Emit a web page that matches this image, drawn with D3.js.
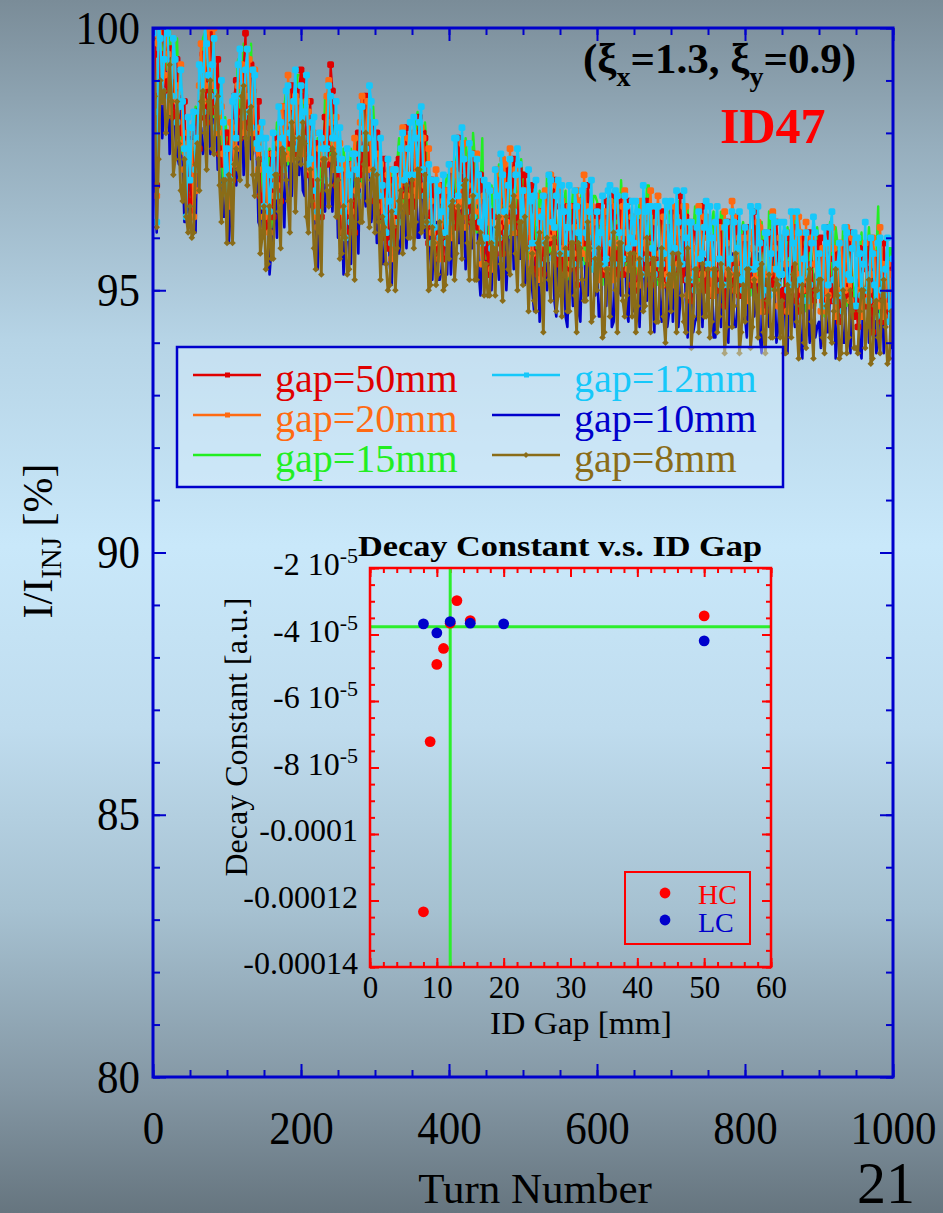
<!DOCTYPE html>
<html>
<head>
<meta charset="utf-8">
<script src="https://cdn.jsdelivr.net/npm/d3@7"></script>
<style>
  body { margin: 0; }
  svg { display: block; }
  text { font-family: "Liberation Serif", "Times New Roman", serif; }
</style>
</head>
<body>
<svg id="chart" width="943" height="1213"></svg>
<script>
// ---- beam current I/I_INJ [%], one sample every 2.5 turns (0..1000) ----
const turns = d3.range(0, 1000.1, 2.5);

const gap50 = [
99.6,99.5,97.0,98.7,99.5,99.9,99.8,98.8,99.0,99.6,99.6,98.3,98.4,99.4,98.2,98.0,98.1,98.6,96.8,96.7,
97.9,96.4,97.3,98.0,98.4,97.7,98.3,99.5,99.2,98.2,99.8,99.9,98.4,98.7,98.9,99.4,97.6,97.4,97.7,98.0,
96.9,98.0,97.8,97.1,98.7,99.0,98.4,97.9,98.1,99.2,99.9,98.1,98.4,99.3,98.8,97.9,97.9,98.6,96.8,96.6,
97.5,96.2,96.4,97.2,97.6,96.4,97.0,97.9,97.9,96.7,97.3,98.5,98.5,97.8,98.0,98.9,98.8,97.6,97.8,98.8,
99.2,99.0,98.7,97.6,97.2,98.6,97.4,96.6,97.8,97.4,96.8,96.4,97.8,98.3,97.4,97.7,99.3,98.8,98.2,97.0,
97.4,96.4,96.1,97.2,97.0,96.1,97.3,97.4,96.7,96.1,97.5,98.0,97.2,97.4,98.6,98.7,97.7,97.3,98.1,98.2,
96.7,98.0,97.2,96.4,96.7,97.5,96.0,95.8,97.1,96.8,96.4,95.8,97.4,97.5,96.9,96.8,97.5,98.1,96.5,96.6,
97.8,96.6,97.6,97.9,98.3,96.9,98.0,97.9,96.5,95.9,97.1,97.1,96.1,96.0,95.6,97.0,96.7,95.6,96.4,96.9,
96.6,97.4,97.4,96.4,96.2,97.9,97.3,96.4,97.4,97.4,96.8,96.3,97.6,97.6,96.3,96.3,96.2,97.2,96.9,95.5,
96.8,95.3,95.8,96.5,96.4,95.7,95.9,97.1,96.7,95.7,97.2,97.3,96.1,96.4,97.0,97.5,96.3,96.1,97.3,97.2,
96.1,97.2,96.5,95.8,96.7,97.0,95.9,95.4,95.3,96.4,96.5,95.3,95.9,96.8,96.8,95.9,96.4,97.1,95.7,95.5,
96.6,95.3,95.6,96.4,96.6,95.4,95.7,96.6,96.3,95.1,95.5,96.7,96.6,95.9,96.1,97.0,96.7,95.5,95.5,96.5,
95.6,96.6,96.4,95.3,95.3,96.7,96.1,95.3,96.8,96.4,95.7,95.3,96.2,96.7,95.3,95.6,96.2,96.7,96.3,95.1,
96.0,95.0,95.1,96.2,96.3,95.4,96.6,96.7,95.7,95.1,96.0,96.5,95.3,95.5,96.4,96.5,95.5,95.1,96.1,96.2,
95.2,96.5,96.2,95.4,96.0,96.8,95.4,95.2,96.4,96.1,95.4,94.8,96.1,96.2,95.4,95.3,96.0,96.6,95.0,95.1,
96.1,94.9,95.7,96.0,95.0,95.0,96.3,96.2,95.3,94.7,96.3,96.3,95.5,95.4,95.0,96.4,96.0,94.9,95.5,96.0,
96.2,96.2,95.3,95.1,95.8,96.5,95.0,94.9,95.5,95.8,95.9,94.6,94.9,96.1,95.9,95.2,95.1,96.3,95.6,94.7,
95.0,94.6,95.5,95.7,96.0,94.9,95.4,96.2,94.8,94.6,95.8,96.0,95.0,95.0,95.8,96.1,95.5,94.8,94.9,95.9,
95.8,96.0,94.8,94.7,96.0,96.2,95.2,94.8,95.6,95.7,94.6,94.4,95.6,95.8,95.2,94.9,95.9,96.1,94.7,94.5,
94.8,94.3,95.8,95.6,94.7,94.7,95.4,95.9,95.9,94.2,94.7,95.7,95.3,94.9,94.4,95.9,95.3,94.4,95.5,95.5,
94.8];

const gap20 = [
99.8,98.1,96.8,99.7,100.2,98.6,99.1,100.2,99.5,98.4,99.2,99.8,98.7,98.6,98.9,99.3,97.8,97.3,97.6,98.0,
97.7,97.8,96.4,96.9,97.8,98.9,99.7,98.6,98.9,100.0,100.0,98.9,98.9,100.0,98.1,98.0,98.6,98.5,97.6,97.0,
97.3,96.6,98.2,98.1,97.4,97.7,98.9,99.3,99.3,98.0,98.7,99.6,99.4,98.5,98.0,99.2,97.7,97.3,98.1,97.9,
96.4,97.6,96.6,96.1,97.2,97.6,96.8,97.0,97.8,98.5,98.5,97.5,97.6,99.1,98.5,97.5,97.9,98.7,98.6,97.8,
98.0,97.6,98.4,98.6,98.4,97.3,97.2,98.0,96.4,96.2,97.7,97.9,97.5,97.5,98.7,99.0,98.2,97.5,97.3,98.3,
97.8,97.8,96.5,96.1,97.4,97.3,96.6,96.5,97.4,97.9,96.9,97.0,98.2,98.7,97.9,97.3,98.6,98.4,97.3,97.2,
97.1,96.6,97.6,97.4,96.2,96.2,96.7,97.2,97.3,95.6,96.3,97.3,97.1,96.7,96.6,98.1,97.7,96.8,97.9,97.9,
97.7,98.0,96.9,96.8,97.9,98.1,97.9,97.0,96.6,97.7,96.7,96.1,95.9,97.3,97.0,95.6,96.1,96.7,96.9,95.9,
96.2,96.0,97.3,97.4,97.2,96.6,96.7,97.8,97.8,96.2,97.0,97.8,97.6,96.8,96.5,97.6,96.7,95.9,95.5,96.8,
96.6,96.7,96.3,95.4,95.8,96.9,97.3,96.2,96.4,97.5,97.4,96.3,96.6,97.7,96.2,96.1,97.3,97.2,96.8,96.2,
96.5,95.8,96.9,96.8,95.4,95.7,96.4,96.8,96.5,95.2,95.9,96.8,96.9,96.0,96.0,97.2,96.2,95.8,97.0,96.8,
96.9,96.7,95.8,95.3,96.2,96.6,95.5,95.7,96.2,96.9,96.7,95.7,95.7,97.2,96.6,95.6,95.8,96.6,96.3,95.5,
95.6,95.2,96.1,96.3,96.5,95.4,95.9,96.7,95.4,95.2,96.6,96.8,95.9,95.9,96.6,96.9,96.1,95.4,95.4,96.4,
96.4,96.4,95.5,95.1,96.7,96.6,95.9,95.8,96.4,96.9,95.4,95.5,96.3,96.8,95.7,95.1,96.4,96.2,95.3,95.2,
95.6,95.1,96.6,96.4,95.5,95.5,96.1,96.6,96.6,94.9,95.3,96.3,95.8,95.4,95.1,96.6,96.2,95.3,96.4,96.4,
96.0,96.3,95.0,94.9,96.0,96.2,96.2,95.3,95.4,96.5,95.9,95.3,95.3,96.7,96.4,95.0,95.4,96.0,96.0,95.0,
95.0,94.8,96.0,96.1,95.8,95.2,95.2,96.3,96.2,94.6,95.3,96.1,96.1,95.3,95.4,96.5,95.8,95.0,94.7,96.0,
95.9,96.0,95.5,94.6,95.0,96.1,96.4,95.3,95.3,96.4,96.1,95.0,95.2,96.3,94.8,94.7,96.0,95.9,95.5,94.9,
95.3,94.6,95.8,95.7,94.6,94.9,95.8,96.2,95.8,94.5,95.0,95.9,95.9,95.0,95.0,96.2,95.2,94.8,96.0,95.8,
95.9,95.7,95.0,94.5,95.5,95.9,94.8,95.0,95.3,96.0,95.7,94.7,94.7,96.2,95.5,94.5,94.7,95.5,95.3,94.5,
95.0];

const gap15 = [
99.7,99.4,96.5,98.5,99.6,99.7,99.3,99.2,100.1,100.1,98.9,98.7,99.1,99.8,98.3,97.8,97.6,98.3,97.4,96.9,
96.7,96.7,98.0,98.5,98.4,97.9,98.5,99.8,99.9,98.5,99.2,99.9,99.6,98.3,98.4,99.3,98.3,97.8,96.8,98.3,
97.8,97.9,97.8,96.9,97.7,98.8,99.4,98.3,98.6,99.7,99.6,98.5,98.6,99.7,97.8,97.7,98.4,98.3,97.4,96.8,
97.0,96.5,97.4,97.7,96.2,96.6,97.6,98.2,98.1,97.0,97.7,98.5,98.8,97.4,97.8,98.8,98.1,98.0,99.1,99.1,
99.1,98.9,97.9,97.4,98.0,98.4,96.8,97.0,97.2,97.9,97.8,96.8,97.2,98.7,98.5,97.5,97.7,98.5,98.0,97.2,
96.9,96.7,97.1,97.7,97.3,96.3,96.7,97.7,96.4,96.4,97.9,98.0,97.5,97.0,98.5,98.6,98.1,97.7,97.3,98.5,
97.9,97.9,96.6,96.2,97.4,97.3,96.3,96.2,96.8,97.3,96.1,96.2,97.4,97.9,97.2,96.6,98.0,97.8,96.9,96.8,
97.2,96.9,98.2,98.4,97.0,97.1,97.5,98.2,97.7,96.2,96.2,97.1,96.5,95.6,95.6,96.9,96.6,96.0,97.0,97.2,
97.0,97.3,96.3,96.2,97.5,97.7,97.7,96.8,96.8,97.9,97.3,96.7,96.6,98.0,97.5,96.1,96.3,96.9,97.9,95.7,
95.6,95.6,96.5,97.0,96.4,95.9,96.1,97.4,97.4,96.0,96.6,97.3,97.3,96.0,96.5,97.4,97.0,96.5,96.0,97.5,
97.0,97.1,96.5,95.6,95.7,96.8,96.9,95.8,95.8,96.9,96.8,95.7,96.1,97.2,95.8,95.7,96.9,96.8,96.3,95.7,
96.1,95.6,96.6,96.9,95.2,95.6,96.3,96.9,96.5,95.4,95.9,96.7,96.9,95.5,95.9,96.9,96.0,95.9,96.8,96.8,
96.7,96.5,95.6,95.1,96.1,96.5,95.5,95.7,96.2,96.9,96.7,95.7,95.6,97.1,96.4,95.4,95.6,96.4,96.1,95.3,
95.5,95.3,96.1,96.7,96.6,95.6,96.0,97.0,97.0,95.4,96.4,96.5,95.6,95.1,96.3,96.4,95.9,95.5,95.3,96.5,
96.4,96.4,95.6,95.2,96.7,96.6,95.7,95.6,96.1,96.6,95.1,95.2,96.1,96.6,95.7,95.1,96.5,96.3,95.4,95.3,
95.5,95.2,96.3,96.5,95.1,95.2,95.8,96.5,96.5,95.0,95.4,96.3,95.9,95.0,95.0,96.3,95.9,95.3,96.1,96.3,
95.8,96.1,95.0,94.9,96.1,96.3,96.2,95.3,95.2,96.3,95.6,95.0,95.1,96.5,96.4,95.0,95.4,96.0,95.9,94.9,
94.9,94.9,95.7,96.2,95.6,95.1,95.2,96.5,96.3,94.9,95.3,96.0,95.9,94.6,95.1,96.0,95.7,95.2,94.7,96.2,
95.8,95.9,95.4,94.5,94.9,96.0,96.3,95.2,95.1,96.2,95.9,94.8,95.1,96.2,94.8,94.7,95.9,95.8,95.3,94.7,
95.1,94.6,95.8,96.1,94.5,94.9,95.6,96.2,95.6,94.5,94.9,95.7,96.6,94.5,94.8,95.8,94.9,94.8,95.8,95.8,
95.3];

const gap12 = [
99.9,98.4,96.3,100.2,99.8,98.8,99.4,100.5,99.9,98.7,98.7,99.8,99.4,98.2,98.5,99.2,98.6,97.7,96.4,98.3,
97.1,98.1,98.4,97.3,97.9,99.3,99.2,98.4,100.1,99.7,99.1,98.7,99.3,99.8,98.1,98.4,98.5,99.0,98.2,97.0,
97.7,96.9,97.1,98.6,98.7,97.9,99.3,99.6,98.7,98.3,99.2,99.6,98.4,98.1,99.2,99.1,97.8,97.7,97.9,98.2,
96.6,97.9,97.3,96.5,97.2,98.0,97.0,96.8,98.5,98.2,97.9,97.3,98.8,98.9,98.0,97.9,98.6,99.2,97.7,97.8,
98.9,97.9,98.4,99.1,97.4,97.5,98.2,98.3,96.9,96.5,98.0,97.9,97.7,97.1,97.7,98.9,98.7,97.9,97.9,98.6,
97.3,98.1,97.5,96.5,96.0,97.7,97.2,96.3,97.6,97.6,97.3,96.8,98.5,98.5,97.7,97.7,97.9,98.9,98.6,97.2,
98.2,96.9,96.8,97.9,97.0,96.4,96.1,97.5,96.7,95.9,97.3,97.3,96.5,96.3,97.7,98.0,97.1,97.2,97.7,98.2,
97.2,98.3,97.9,97.2,98.2,98.5,97.3,96.8,96.3,97.4,97.1,95.9,96.2,97.1,96.9,96.0,96.5,97.2,96.1,95.9,
97.4,96.3,96.7,97.9,97.9,96.8,97.0,98.1,97.5,96.5,96.7,97.8,97.6,96.4,96.8,97.5,97.2,96.3,95.9,97.1,
96.0,97.0,96.9,95.8,95.9,97.3,96.8,96.0,97.6,97.2,96.5,96.1,97.0,97.5,96.2,96.5,97.2,97.7,97.4,96.2,
96.9,96.1,95.8,97.3,96.7,95.9,96.8,97.1,95.9,95.5,96.4,96.8,95.9,95.6,97.2,97.1,96.3,96.2,96.8,97.1,
95.7,97.0,96.5,95.7,96.2,97.0,95.7,95.5,96.9,96.6,96.1,95.5,96.9,97.0,96.1,96.0,96.5,97.1,95.4,95.5,
96.5,95.5,96.1,96.8,95.5,95.6,96.9,97.0,95.9,95.5,96.9,96.8,96.1,95.5,95.6,96.8,96.6,95.8,96.0,96.7,
95.9,96.7,96.5,95.5,95.3,97.0,96.5,95.6,96.6,96.6,95.8,95.3,96.6,96.6,95.5,95.5,95.7,96.7,96.6,95.2,
96.7,95.4,95.8,96.9,96.3,95.7,95.5,96.9,96.0,95.2,96.3,96.3,95.2,95.0,96.2,96.5,95.6,95.7,96.2,96.7,
95.5,96.6,96.0,95.3,96.3,96.6,95.6,95.1,95.1,96.2,96.3,95.1,95.6,96.5,96.3,95.4,95.8,96.5,95.2,95.0,
96.2,95.1,95.4,96.6,96.5,95.4,95.5,96.6,95.9,94.9,95.0,96.1,96.1,94.9,95.7,96.4,96.3,95.4,95.1,96.3,
95.3,96.3,96.1,95.0,95.1,96.5,95.9,95.1,96.5,96.1,95.2,94.8,95.6,96.1,94.8,95.1,95.9,96.4,96.1,94.9,
95.7,94.9,94.7,96.2,95.9,95.1,96.2,96.5,95.2,94.8,95.5,95.9,94.9,94.6,96.2,96.1,95.3,95.2,95.8,96.1,
94.7,96.0,95.7,94.9,95.5,96.3,95.0,94.8,96.0,95.7,95.1,94.5,95.9,96.0,95.0,94.9,95.4,96.0,94.4,94.5,
95.6];

const gap10 = [
99.4,97.4,96.1,99.2,99.2,97.9,98.5,99.6,99.3,97.6,98.2,99.0,98.0,97.6,97.4,98.7,97.5,96.3,96.3,97.2,
96.2,97.3,97.2,96.1,98.2,98.0,98.1,97.6,97.8,99.4,99.1,97.6,98.1,99.0,98.5,97.3,97.5,97.9,96.4,96.4,
97.2,95.9,96.6,97.6,98.2,97.0,97.7,98.7,98.5,97.2,97.7,98.8,98.5,97.5,97.6,98.6,97.8,96.3,96.2,97.1,
96.1,97.1,96.8,95.3,95.8,96.7,96.8,96.0,97.8,97.9,96.9,96.2,97.6,98.1,96.8,96.8,97.9,98.1,98.2,97.2,
97.9,96.9,96.8,98.1,97.5,96.6,97.2,97.4,96.1,95.4,96.7,97.1,96.6,96.5,98.2,98.4,97.2,96.5,97.5,97.5,
96.0,97.3,96.5,95.3,96.1,96.4,95.7,95.5,97.1,97.3,96.6,95.7,97.6,97.7,97.0,96.6,97.5,97.8,96.3,96.6,
97.1,95.9,96.4,96.9,95.5,95.5,96.6,96.6,95.5,95.1,96.6,96.5,96.1,95.7,96.0,97.5,97.2,95.8,96.7,97.1,
96.7,97.5,97.4,96.0,96.0,97.2,96.9,96.0,96.6,97.1,95.6,95.2,96.3,96.3,95.2,95.2,95.4,96.1,96.5,95.3,
96.8,95.3,96.0,96.9,96.6,95.9,95.9,97.2,96.5,95.4,97.0,97.0,95.8,95.8,96.4,97.0,95.4,94.9,95.8,96.0,
95.1,96.2,95.7,95.0,96.2,96.0,95.7,95.2,95.3,96.9,96.5,95.0,95.8,96.7,96.6,95.4,96.2,96.6,95.6,95.6,
96.4,95.1,95.3,96.3,96.2,95.0,94.6,96.2,95.7,94.4,94.9,96.0,96.0,95.0,95.6,96.6,96.3,94.8,94.5,96.0,
95.2,96.2,96.0,94.5,94.3,95.7,95.5,94.7,96.2,96.3,94.6,94.4,95.7,96.2,94.9,94.9,95.8,96.0,95.9,94.9,
95.5,94.5,94.5,95.8,95.6,94.7,95.9,96.1,94.3,94.4,95.6,96.0,95.0,94.9,96.1,96.3,94.6,94.4,95.6,95.6,
94.6,95.9,95.5,94.3,95.4,95.7,95.0,94.8,96.1,96.3,95.1,94.2,95.7,95.8,94.8,94.4,95.3,95.6,94.3,94.6,
95.6,94.4,95.4,95.9,94.3,94.8,96.0,96.0,94.8,94.1,95.6,95.5,94.2,94.4,94.5,96.0,95.7,94.3,95.2,95.6,
95.0,95.8,95.5,94.1,94.1,95.3,95.2,94.3,95.4,95.9,94.8,94.0,95.7,95.7,94.3,94.3,94.7,95.4,95.6,94.4,
94.5,94.1,95.2,95.6,95.6,94.5,94.8,95.7,94.1,93.8,95.2,95.3,94.6,94.3,95.5,95.9,95.0,94.0,94.3,95.2,
95.3,95.5,94.3,93.8,95.5,95.2,94.7,94.3,95.2,95.8,94.0,93.7,95.1,95.3,94.6,94.0,95.4,95.3,94.1,94.3,
94.4,93.9,95.2,95.2,94.2,94.2,95.0,95.6,95.5,93.7,94.2,95.1,94.7,94.0,94.0,95.6,95.0,93.8,95.1,95.0,
94.7,95.2,93.9,93.7,95.0,95.0,95.2,94.0,94.2,95.4,94.6,93.8,94.1,95.2,95.2,93.8,94.2,94.9,94.8,93.9,
94.1];

const gap8 = [
99.8,98.7,96.2,97.5,99.0,98.6,98.8,98.0,98.3,99.3,98.6,97.2,97.5,98.6,97.8,96.9,96.7,97.5,96.4,96.1,
96.6,96.0,96.1,97.4,97.8,96.9,98.6,98.8,98.0,97.3,98.6,99.0,97.7,97.6,98.5,98.7,97.0,96.3,97.1,97.1,
95.9,97.2,97.1,95.9,97.4,97.7,97.3,97.1,98.7,98.9,97.9,97.0,98.4,98.5,97.2,96.8,97.2,97.5,95.7,96.0,
96.6,95.4,95.5,96.6,95.6,95.6,97.2,97.2,96.5,95.8,97.7,97.6,97.1,96.7,96.1,98.2,97.9,96.5,97.5,97.9,
97.4,98.2,97.8,96.4,96.1,97.3,96.7,95.8,95.4,97.1,96.1,95.3,97.5,97.5,96.9,96.6,97.0,97.7,97.6,96.4,
97.1,95.6,95.7,96.6,96.0,95.3,95.4,96.7,96.3,95.2,97.1,97.1,96.3,96.3,97.4,98.0,96.7,96.2,97.1,97.3,
96.1,97.2,96.3,95.2,96.4,96.2,95.5,95.0,95.1,96.5,96.2,95.0,95.8,96.7,96.9,95.7,96.6,97.0,96.0,96.0,
97.1,95.8,96.3,97.3,97.3,96.1,96.2,97.2,96.3,95.0,95.1,96.2,95.9,95.1,95.3,96.3,96.0,95.0,95.1,96.0,
95.6,96.6,96.7,95.2,95.7,96.6,96.4,95.6,97.0,97.1,95.9,95.2,96.3,96.8,95.2,95.2,95.9,96.1,95.9,94.9,
95.5,94.9,94.9,95.9,95.8,94.9,96.2,96.4,95.5,94.8,96.0,96.4,95.4,95.3,96.6,96.8,95.7,95.0,96.3,96.3,
95.1,96.4,95.8,94.6,95.4,95.7,94.8,94.6,95.9,96.1,95.1,94.2,95.9,96.0,95.2,94.8,95.7,96.0,94.6,94.9,
95.7,94.5,95.3,95.8,94.6,94.6,95.9,95.9,94.9,94.2,95.9,95.8,95.2,94.8,94.8,96.3,95.8,94.4,94.5,95.6,
95.0,95.8,95.5,94.1,94.2,95.4,95.4,94.5,95.6,96.1,95.0,94.2,95.9,95.9,94.8,94.5,94.9,95.6,95.7,94.5,
95.7,94.2,94.7,95.6,95.3,94.6,94.7,96.0,95.3,94.2,95.6,95.6,94.4,94.4,95.2,95.8,94.5,94.0,95.1,95.3,
94.6,95.7,95.3,94.2,95.7,95.5,94.9,94.4,94.2,95.8,95.2,93.9,94.5,95.4,95.4,94.2,95.1,95.5,94.5,94.5,
95.4,94.1,94.4,95.4,95.4,94.2,94.5,95.5,95.1,93.8,94.3,95.4,95.3,94.3,94.7,95.7,95.3,93.8,94.2,95.1,
94.4,95.4,95.4,93.9,94.3,95.2,94.9,94.1,95.4,95.5,94.2,93.8,94.8,95.3,94.1,94.1,95.0,95.2,95.1,94.1,
94.8,93.8,93.8,95.1,95.0,94.1,95.3,95.5,94.4,93.7,94.7,95.1,94.0,93.9,95.2,95.4,94.4,93.7,95.0,95.0,
95.2,95.2,94.1,93.8,94.7,94.9,94.1,94.0,94.6,95.4,94.9,93.7,93.8,95.0,94.8,93.8,94.1,95.0,94.6,93.9,
93.9,93.8,94.6,95.0,95.0,93.9,94.3,95.2,93.6,93.7,94.7,94.8,94.1,93.8,94.8,95.2,94.3,93.6,93.7,94.6,
94.0];

// ---- tick values / labels ----
const xMajorTicks = [0, 200, 400, 600, 800, 1000];
const xMinorTicks = d3.range(0, 1001, 50);
const yMajorTicks = [80, 85, 90, 95, 100];
const yMinorTicks = d3.range(80, 101, 1);

// ---- inset: decay constant vs ID gap ----
const hcGap   = [8, 9, 10, 11, 12, 13, 15, 50];
const hcDecay = [-12.34e-5, -7.22e-5, -4.90e-5, -4.42e-5, -3.66e-5, -2.98e-5, -3.58e-5, -3.44e-5];
const lcGap   = [8, 10, 12, 15, 20, 50];
const lcDecay = [-3.68e-5, -3.95e-5, -3.61e-5, -3.66e-5, -3.68e-5, -4.19e-5];
const refGap = 12;
const refDecay = -3.77e-5;
const insetXTicks = [0, 10, 20, 30, 40, 50, 60];
const insetXMinor = d3.range(0, 61, 2);
const insetYTicks = [-2e-5, -4e-5, -6e-5, -8e-5, -10e-5, -12e-5, -14e-5];
const insetYMinor = d3.range(-14e-5, -1.99e-5, 0.5e-5);
const insetYLabels = [["-2 10", "-5"], ["-4 10", "-5"], ["-6 10", "-5"], ["-8 10", "-5"],
                      ["-0.0001", ""], ["-0.00012", ""], ["-0.00014", ""]];

// ---- colours ----
const C = {
  g50: "#e00000", g20: "#ff6a12", g15: "#22ee22",
  g12: "#16c8fa", g10: "#0000cc", g8: "#8a6c18"
};

const svg = d3.select("#chart");
const defs = svg.append("defs");

// slide background
const bg = defs.append("linearGradient").attr("id", "bg")
  .attr("x1", 0).attr("y1", 0).attr("x2", 0).attr("y2", 1);
[[0, "#7a8c98"], [0.12, "#96aebd"], [0.28, "#b6d4e6"], [0.45, "#c9e8fa"],
 [0.6, "#bfdcee"], [0.75, "#a6c1d1"], [0.9, "#8396a3"], [1, "#66757f"]]
  .forEach(([o, c]) => bg.append("stop").attr("offset", o).attr("stop-color", c));
svg.append("rect").attr("width", 943).attr("height", 1213).attr("fill", "url(#bg)");

// ---- main plot ----
const L = 153, R = 893, T = 28, B = 1077;
const x = d3.scaleLinear().domain([0, 1000]).range([L, R]);
const y = d3.scaleLinear().domain([80, 100]).range([B, T]);

defs.append("clipPath").attr("id", "plotClip")
  .append("rect").attr("x", L).attr("y", T).attr("width", R - L).attr("height", B - T);

const series = [
  { key: "g10", values: gap10, marker: null,      width: 2.6 },
  { key: "g15", values: gap15, marker: null,      width: 2.4 },
  { key: "g50", values: gap50, marker: "square",  width: 2.2 },
  { key: "g20", values: gap20, marker: "square",  width: 2.2 },
  { key: "g12", values: gap12, marker: "square",  width: 2.2 },
  { key: "g8",  values: gap8,  marker: "diamond", width: 2.8 }
];

const plot = svg.append("g").attr("clip-path", "url(#plotClip)");
const line = d3.line().x((d, i) => x(turns[i])).y(d => y(d));

series.forEach(s => {
  const g = plot.append("g");
  g.append("path").datum(s.values).attr("d", line)
    .attr("fill", "none").attr("stroke", C[s.key])
    .attr("stroke-width", s.width).attr("stroke-linejoin", "round");
  if (s.marker === "square") {
    g.selectAll("rect").data(s.values).join("rect")
      .attr("x", (d, i) => x(turns[i]) - 3.4).attr("y", d => y(d) - 3.4)
      .attr("width", 6.8).attr("height", 6.8).attr("rx", 1.8)
      .attr("fill", C[s.key]);
  } else if (s.marker === "diamond") {
    g.selectAll("path.m").data(s.values).join("path").attr("class", "m")
      .attr("d", (d, i) => {
        const cx = x(turns[i]), cy = y(d), r = 3.3;
        return `M${cx},${cy - r}L${cx + r},${cy}L${cx},${cy + r}L${cx - r},${cy}Z`;
      })
      .attr("fill", C[s.key]);
  }
});

// axes (ticks point inward on all four sides)
const axisColor = "#0000cc";
function styleAxis(g, labelled) {
  g.select(".domain").remove();
  g.attr("font-family", null);
  g.selectAll("line").attr("stroke", axisColor).attr("stroke-width", 2);
  if (labelled) g.selectAll("text").attr("font-size", 47).attr("fill", "#000")
    .attr("lengthAdjust", "spacingAndGlyphs")
    .attr("textLength", function () { return this.textContent.length * 21.5; });
}
svg.append("g").attr("transform", `translate(0,${B})`)
  .call(d3.axisBottom(x).tickValues(xMinorTicks).tickSize(-7).tickFormat(""))
  .call(g => styleAxis(g, false));
svg.append("g").attr("transform", `translate(0,${B})`)
  .call(d3.axisBottom(x).tickValues(xMajorTicks).tickSize(-13).tickPadding(34).tickFormat(d3.format("d")))
  .call(g => styleAxis(g, true));
svg.append("g").attr("transform", `translate(0,${T})`)
  .call(d3.axisTop(x).tickValues(xMinorTicks).tickSize(-7).tickFormat(""))
  .call(g => styleAxis(g, false));
svg.append("g").attr("transform", `translate(0,${T})`)
  .call(d3.axisTop(x).tickValues(xMajorTicks).tickSize(-13).tickFormat(""))
  .call(g => styleAxis(g, false));
svg.append("g").attr("transform", `translate(${L},0)`)
  .call(d3.axisLeft(y).tickValues(yMinorTicks).tickSize(-7).tickFormat(""))
  .call(g => styleAxis(g, false));
svg.append("g").attr("transform", `translate(${L},0)`)
  .call(d3.axisLeft(y).tickValues(yMajorTicks).tickSize(-13).tickPadding(13).tickFormat(d3.format("d")))
  .call(g => styleAxis(g, true));
svg.append("g").attr("transform", `translate(${R},0)`)
  .call(d3.axisRight(y).tickValues(yMinorTicks).tickSize(-7).tickFormat(""))
  .call(g => styleAxis(g, false));
svg.append("g").attr("transform", `translate(${R},0)`)
  .call(d3.axisRight(y).tickValues(yMajorTicks).tickSize(-13).tickFormat(""))
  .call(g => styleAxis(g, false));

svg.append("rect").attr("x", L).attr("y", T).attr("width", R - L).attr("height", B - T)
  .attr("fill", "none").attr("stroke", axisColor).attr("stroke-width", 3);

// axis titles
svg.append("text").attr("x", 535).attr("y", 1203).attr("text-anchor", "middle")
  .attr("font-size", 43).text("Turn Number");
const yl = svg.append("text").attr("transform", "translate(52,541) rotate(-90)")
  .attr("text-anchor", "middle").attr("font-size", 42);
yl.append("tspan").text("I/I");
yl.append("tspan").attr("font-size", 29).attr("dy", 9).text("INJ");
yl.append("tspan").attr("dy", -9).text(" [%]");

// chromaticity note and ID name
const xi = svg.append("text").attr("x", 583).attr("y", 73)
  .attr("font-size", 43).attr("font-weight", "bold");
xi.append("tspan").text("(ξ");
xi.append("tspan").attr("font-size", 28).attr("dy", 13).text("x");
xi.append("tspan").attr("dy", -13).text("=1.3, ξ");
xi.append("tspan").attr("font-size", 28).attr("dy", 13).text("y");
xi.append("tspan").attr("dy", -13).text("=0.9)");
svg.append("text").attr("x", 720).attr("y", 143).attr("font-size", 50)
  .attr("font-weight", "bold").attr("fill", "#ff0000").text("ID47");

// page number
svg.append("text").attr("x", 886).attr("y", 1203).attr("text-anchor", "middle")
  .attr("font-size", 60).attr("textLength", 58).attr("lengthAdjust", "spacingAndGlyphs").text("21");

// ---- legend ----
const legendItems = [
  { label: "gap=50mm", key: "g50", marker: "square", col: 0, row: 0 },
  { label: "gap=20mm", key: "g20", marker: "square", col: 0, row: 1 },
  { label: "gap=15mm", key: "g15", marker: null, col: 0, row: 2 },
  { label: "gap=12mm", key: "g12", marker: "square", col: 1, row: 0 },
  { label: "gap=10mm", key: "g10", marker: null, col: 1, row: 1 },
  { label: "gap=8mm",  key: "g8",  marker: "diamond", col: 1, row: 2 }
];
svg.append("rect").attr("x", 177).attr("y", 347).attr("width", 606).attr("height", 140)
  .attr("fill", "rgba(214,238,252,0.45)").attr("stroke", axisColor).attr("stroke-width", 2.5);
const lg = svg.append("g");
legendItems.forEach(it => {
  const x0 = it.col ? 492 : 193, ly = 375 + it.row * 40;
  lg.append("line").attr("x1", x0).attr("x2", x0 + 68).attr("y1", ly).attr("y2", ly)
    .attr("stroke", C[it.key]).attr("stroke-width", 2.5);
  if (it.marker === "square") lg.append("rect").attr("x", x0 + 32).attr("y", ly - 2.5)
    .attr("width", 5).attr("height", 5).attr("fill", C[it.key]);
  if (it.marker === "diamond") lg.append("path")
    .attr("d", `M${x0 + 34},${ly - 3}L${x0 + 37},${ly}L${x0 + 34},${ly + 3}L${x0 + 31},${ly}Z`)
    .attr("fill", C[it.key]);
  lg.append("text").attr("x", x0 + 82).attr("y", ly + 17).attr("font-size", 40)
    .attr("fill", C[it.key]).text(it.label);
});

// ---- inset plot ----
const IL = 370, IR = 771, IT = 568, IB = 967;
const ix = d3.scaleLinear().domain([0, 60]).range([IL, IR]);
const iy = d3.scaleLinear().domain([-14e-5, -2e-5]).range([IB, IT]);
const red = "#ff0000";

function styleInset(g, labelled) {
  g.select(".domain").remove();
  g.attr("font-family", null);
  g.selectAll("line").attr("stroke", red).attr("stroke-width", 2);
  if (labelled) g.selectAll("text").attr("font-size", 31).attr("fill", "#000");
}
svg.append("g").attr("transform", `translate(0,${IB})`)
  .call(d3.axisBottom(ix).tickValues(insetXMinor).tickSize(-5).tickFormat(""))
  .call(g => styleInset(g, false));
svg.append("g").attr("transform", `translate(0,${IB})`)
  .call(d3.axisBottom(ix).tickValues(insetXTicks).tickSize(-9).tickPadding(9).tickFormat(d3.format("d")))
  .call(g => styleInset(g, true));
svg.append("g").attr("transform", `translate(0,${IT})`)
  .call(d3.axisTop(ix).tickValues(insetXMinor).tickSize(-5).tickFormat(""))
  .call(g => styleInset(g, false));
svg.append("g").attr("transform", `translate(0,${IT})`)
  .call(d3.axisTop(ix).tickValues(insetXTicks).tickSize(-9).tickFormat(""))
  .call(g => styleInset(g, false));
svg.append("g").attr("transform", `translate(${IL},0)`)
  .call(d3.axisLeft(iy).tickValues(insetYMinor).tickSize(-5).tickFormat(""))
  .call(g => styleInset(g, false));
svg.append("g").attr("transform", `translate(${IL},0)`)
  .call(d3.axisLeft(iy).tickValues(insetYTicks).tickSize(-9).tickFormat(""))
  .call(g => styleInset(g, false));
svg.append("g").attr("transform", `translate(${IR},0)`)
  .call(d3.axisRight(iy).tickValues(insetYMinor).tickSize(-5).tickFormat(""))
  .call(g => styleInset(g, false));
svg.append("g").attr("transform", `translate(${IR},0)`)
  .call(d3.axisRight(iy).tickValues(insetYTicks).tickSize(-9).tickFormat(""))
  .call(g => styleInset(g, false));

// y tick labels with exponents
insetYTicks.forEach((v, i) => {
  const t = svg.append("text").attr("x", 358).attr("y", iy(v) + 7)
    .attr("text-anchor", "end").attr("font-size", 32);
  t.append("tspan").text(insetYLabels[i][0]);
  if (insetYLabels[i][1]) t.append("tspan").attr("font-size", 22).attr("dy", -12).text(insetYLabels[i][1]);
});

// reference cross-hair
svg.append("line").attr("x1", ix(refGap)).attr("x2", ix(refGap)).attr("y1", IT).attr("y2", IB)
  .attr("stroke", "#2cee2c").attr("stroke-width", 3);
svg.append("line").attr("x1", IL).attr("x2", IR).attr("y1", iy(refDecay)).attr("y2", iy(refDecay))
  .attr("stroke", "#2cee2c").attr("stroke-width", 3);

svg.append("rect").attr("x", IL).attr("y", IT).attr("width", IR - IL).attr("height", IB - IT)
  .attr("fill", "none").attr("stroke", red).attr("stroke-width", 2.5);

// data points
svg.append("g").selectAll("circle").data(hcGap).join("circle")
  .attr("cx", d => ix(d)).attr("cy", (d, i) => iy(hcDecay[i])).attr("r", 5.4).attr("fill", red);
svg.append("g").selectAll("circle").data(lcGap).join("circle")
  .attr("cx", d => ix(d)).attr("cy", (d, i) => iy(lcDecay[i])).attr("r", 5.4).attr("fill", "#0000cc");

// inset titles
svg.append("text").attr("x", 560).attr("y", 556).attr("text-anchor", "middle")
  .attr("font-size", 30).attr("font-weight", "bold")
  .attr("textLength", 404).attr("lengthAdjust", "spacingAndGlyphs")
  .text("Decay Constant v.s. ID Gap");
svg.append("text").attr("x", 581).attr("y", 1034).attr("text-anchor", "middle")
  .attr("font-size", 31).attr("textLength", 182).attr("lengthAdjust", "spacingAndGlyphs")
  .text("ID Gap [mm]");
svg.append("text").attr("transform", "translate(247,737) rotate(-90)").attr("text-anchor", "middle")
  .attr("font-size", 31).attr("textLength", 279).attr("lengthAdjust", "spacingAndGlyphs")
  .text("Decay Constant [a.u.]");

// inset legend
svg.append("rect").attr("x", 625).attr("y", 872).attr("width", 125).attr("height", 72)
  .attr("fill", "none").attr("stroke", red).attr("stroke-width", 2);
svg.append("circle").attr("cx", 665).attr("cy", 893).attr("r", 5.4).attr("fill", red);
svg.append("circle").attr("cx", 665).attr("cy", 920).attr("r", 5.4).attr("fill", "#0000cc");
svg.append("text").attr("x", 698).attr("y", 904).attr("font-size", 28).attr("fill", red).text("HC");
svg.append("text").attr("x", 698).attr("y", 932).attr("font-size", 28).attr("fill", "#0000cc").text("LC");
</script>
</body>
</html>
